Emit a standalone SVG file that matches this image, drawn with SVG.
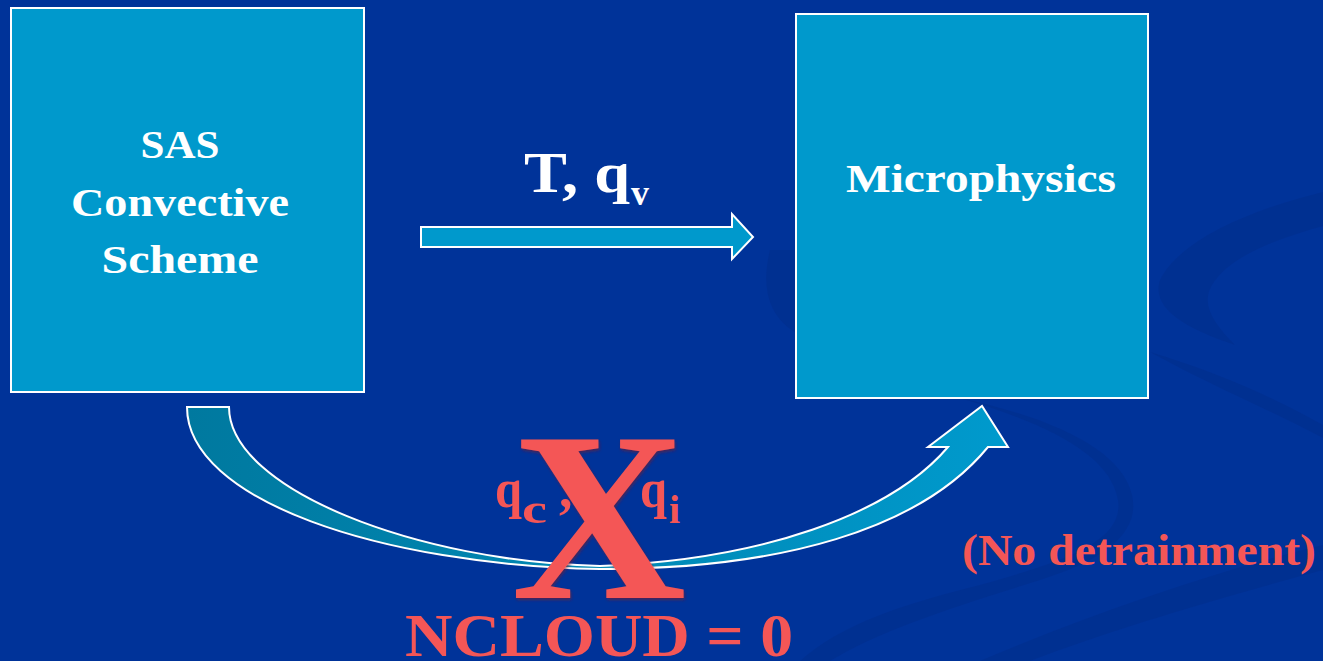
<svg xmlns="http://www.w3.org/2000/svg" width="1323" height="661" viewBox="0 0 1323 661">
  <style>
    .box { fill: #0099CC; stroke: #FFFFFF; stroke-width: 2; }
    .white { fill: #FFFFFF; font-family: "Liberation Serif", "Times New Roman", serif; font-weight: bold; }
    .red { fill: #F45656; font-family: "Liberation Serif", "Times New Roman", serif; font-weight: bold; }
    .swoosh { fill: #002B85; opacity: 0.35; }
  </style>
  <defs>
    <linearGradient id="curveFill" gradientUnits="userSpaceOnUse" x1="187" y1="0" x2="1008" y2="0">
      <stop offset="0" stop-color="#00799F"/>
      <stop offset="0.45" stop-color="#0086B2"/>
      <stop offset="1" stop-color="#009ACD"/>
    </linearGradient>
    <filter id="bevel" x="-10%" y="-10%" width="120%" height="120%">
      <feGaussianBlur in="SourceAlpha" stdDeviation="1.5" result="b"/>
      <feOffset dx="1" dy="1.5" result="o"/>
      <feFlood flood-color="#7A1A2A" flood-opacity="0.6"/>
      <feComposite in2="o" operator="in" result="s"/>
      <feMerge><feMergeNode in="s"/><feMergeNode in="SourceGraphic"/></feMerge>
    </filter>
  </defs>

  <!-- slide background with faint swooshes -->
  <rect x="0" y="0" width="1323" height="661" fill="#003399"/>
  <g id="background">
    <path class="swoosh" d="M1323,192 C1250,210 1180,240 1160,280 C1150,310 1190,330 1235,345 C1215,325 1200,305 1212,285 C1230,255 1280,238 1323,226 Z"/>
    <path class="swoosh" d="M1150,352 C1210,370 1270,395 1323,425 L1323,438 C1270,410 1210,385 1150,352 Z"/>
    <path class="swoosh" d="M770,250 C760,290 770,320 800,335 L800,250 Z"/>
    <path class="swoosh" d="M960,398 C1050,425 1110,455 1118,500 C1124,540 1070,560 980,585 C900,605 840,625 800,661 L830,661 C880,630 960,605 1040,580 C1110,558 1140,530 1132,495 C1122,452 1060,420 960,398 Z"/>
    <path class="swoosh" d="M980,661 C1100,610 1220,570 1323,545 L1323,570 C1230,595 1110,630 1030,661 Z"/>
  </g>

  <!-- process boxes -->
  <g id="sas-node">
    <rect class="box" x="11" y="8" width="353" height="384"/>
    <text class="white" font-size="41" text-anchor="middle" x="180" y="158" textLength="79" lengthAdjust="spacingAndGlyphs">SAS</text>
    <text class="white" font-size="41" text-anchor="middle" x="180" y="216" textLength="218" lengthAdjust="spacingAndGlyphs">Convective</text>
    <text class="white" font-size="41" text-anchor="middle" x="180" y="273" textLength="157" lengthAdjust="spacingAndGlyphs">Scheme</text>
  </g>
  <g id="microphysics-node">
    <rect class="box" x="796" y="14" width="352" height="384"/>
    <text class="white" font-size="41" text-anchor="middle" x="981" y="192" textLength="270" lengthAdjust="spacingAndGlyphs">Microphysics</text>
  </g>

  <!-- connectors -->
  <g id="connectors">
    <polygon class="box" points="421,227 732,227 732,214 753,237 732,259 732,247 421,247"/>
    <path fill="url(#curveFill)" stroke="#FFFFFF" stroke-width="2" stroke-linejoin="miter"
      d="M187,407 L229,407 C229,490 420,562 600,566 C760,560 890,515 948,447 L928,447 L982,406 L1008,447 L988,447 C920,530 780,569 600,569 C380,565 187,500 187,407 Z"/>
  </g>

  <!-- labels -->
  <g id="labels">
    <text class="white" font-size="57" x="524" y="192" textLength="106" lengthAdjust="spacingAndGlyphs">T, q</text>
    <text class="white" font-size="36" x="631" y="205">v</text>

    <text class="red" font-size="54" x="495" y="507" textLength="27" lengthAdjust="spacingAndGlyphs">q</text>
    <text class="red" font-size="42" x="522" y="523" textLength="25" lengthAdjust="spacingAndGlyphs">c</text>
    <text class="red" font-size="54" x="559" y="507">,</text>
    <text class="red" font-size="54" x="640" y="507" textLength="27" lengthAdjust="spacingAndGlyphs">q</text>
    <text class="red" font-size="40" x="669" y="523">i</text>

    <text class="red" font-size="242" x="599" y="598" text-anchor="middle" filter="url(#bevel)" textLength="175" lengthAdjust="spacingAndGlyphs">X</text>

    <text class="red" font-size="62" x="405" y="656" textLength="388" lengthAdjust="spacingAndGlyphs">NCLOUD = 0</text>
    <text class="red" font-size="44" x="962" y="565" textLength="354" lengthAdjust="spacingAndGlyphs">(No detrainment)</text>
  </g>
</svg>
